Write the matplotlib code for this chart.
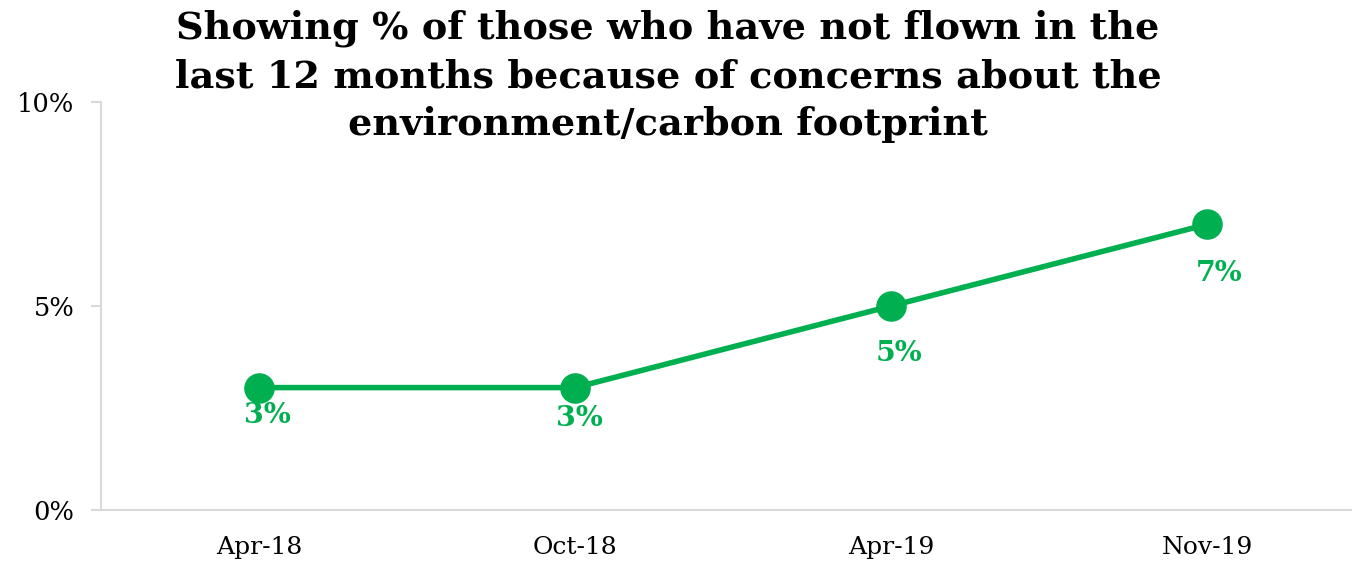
import matplotlib.pyplot as plt
from matplotlib.ticker import FuncFormatter

# survey waves and share who skipped flying over environmental concerns
waves = ['Apr-18', 'Oct-18', 'Apr-19', 'Nov-19']
share = [0.03, 0.03, 0.05, 0.07]
label_offsets = [(6, -20), (3, -22), (6, -34), (9, -35)]

title = ('Showing % of those who have not flown in the\n'
         'last 12 months because of concerns about the\n'
         'environment/carbon footprint')

green = '#00B050'
axis_grey = '#D9D9D9'
plt.rcParams['font.family'] = ['DejaVu Serif']

fig = plt.figure(figsize=(13.52, 5.61), dpi=100)
ax = fig.add_axes([0.0747, 0.0909, 0.935, 0.7273])

x = list(range(len(waves)))
ax.plot(x, share, color=green, linewidth=4, marker='o', markersize=21,
        solid_capstyle='round', zorder=3)

for xi, v, (dx, dy) in zip(x, share, label_offsets):
    ax.annotate(f'{v * 100:.0f}%', (xi, v), xytext=(dx, dy), textcoords='offset points',
                ha='center', va='center', color=green, fontsize=20.5, fontweight='bold')

ax.set_xlim(-0.5, 3.5)
ax.set_ylim(0, 0.10)
ax.set_yticks([0, 0.05, 0.10])
ax.yaxis.set_major_formatter(FuncFormatter(lambda v, _: f'{v * 100:.0f}%'))
ax.set_xticks(x)
ax.set_xticklabels(waves)

for side in ['top', 'right']:
    ax.spines[side].set_visible(False)
for side in ['left', 'bottom']:
    ax.spines[side].set_color(axis_grey)
    ax.spines[side].set_linewidth(1.5)
ax.tick_params(axis='y', length=7, width=1.5, color=axis_grey, labelsize=18.5, pad=12)
ax.tick_params(axis='x', length=0, labelsize=18, pad=19)

fig.text(0.494, 0.983, title, ha='center', va='top', fontsize=27.5,
         fontweight='bold', linespacing=1.38)

fig.savefig('out.png', dpi=100)
